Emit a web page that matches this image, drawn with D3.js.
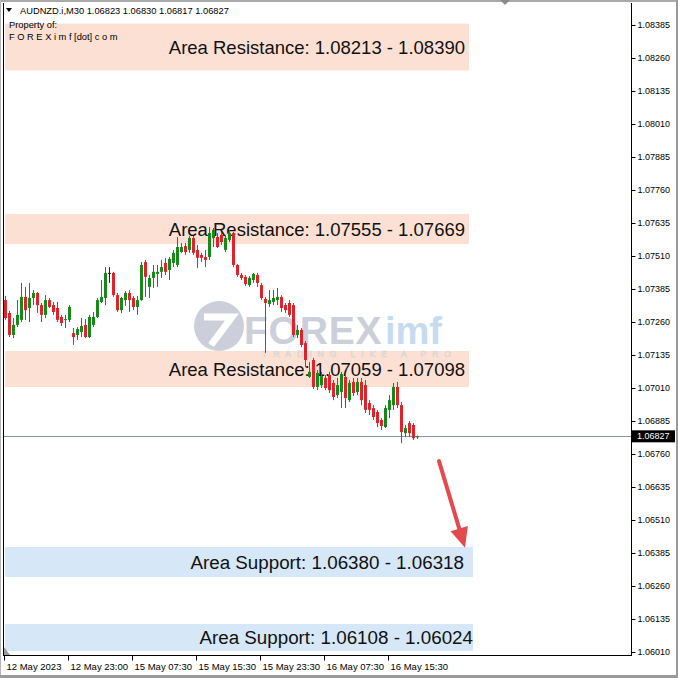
<!DOCTYPE html>
<html><head><meta charset="utf-8">
<script src="https://cdn.jsdelivr.net/npm/d3@7"></script>
<style>body{margin:0;background:#fff}svg{display:block}</style>
</head><body><svg id="c" width="678" height="678"></svg>
<script>
// ---- data (AUDNZD.i, M30) ----
const openP  = [1.07343,1.07294,1.07211,1.07249,1.07268,1.07355,1.07313,1.07351,1.07370,1.07324,1.07287,1.07343,1.07324,1.07313,1.07279,1.07268,1.07268,1.07218,1.07211,1.07222,1.07249,1.07203,1.07249,1.07279,1.07336,1.07351,1.07446,1.07446,1.07362,1.07305,1.07343,1.07370,1.07351,1.07317,1.07343,1.07487,1.07393,1.07427,1.07442,1.07450,1.07484,1.07457,1.07484,1.07476,1.07525,1.07548,1.07533,1.07578,1.07533,1.07514,1.07506,1.07506,1.07578,1.07582,1.07590,1.07533,1.07571,1.07597,1.07476,1.07438,1.07431,1.07400,1.07419,1.07438,1.07400,1.07347,1.07328,1.07336,1.07343,1.07355,1.07324,1.07332,1.07324,1.07211,1.07230,1.07180,1.07052,1.07116,1.07014,1.07021,1.07048,1.07059,1.07029,1.06983,1.06995,1.07052,1.06964,1.07033,1.06995,1.07033,1.07021,1.06953,1.06934,1.06919,1.06889,1.06862,1.06927,1.06945,1.07014,1.06945,1.06839,1.06877,1.06870,1.06823];
const highP  = [1.07359,1.07302,1.07275,1.07343,1.07408,1.07393,1.07408,1.07381,1.07374,1.07332,1.07362,1.07351,1.07336,1.07336,1.07287,1.07287,1.07324,1.07237,1.07241,1.07275,1.07271,1.07287,1.07298,1.07351,1.07419,1.07468,1.07468,1.07450,1.07370,1.07355,1.07377,1.07381,1.07359,1.07359,1.07487,1.07495,1.07438,1.07476,1.07476,1.07495,1.07503,1.07506,1.07533,1.07582,1.07559,1.07559,1.07586,1.07586,1.07552,1.07522,1.07533,1.07620,1.07616,1.07597,1.07601,1.07590,1.07609,1.07601,1.07480,1.07446,1.07438,1.07434,1.07446,1.07446,1.07408,1.07355,1.07381,1.07381,1.07389,1.07362,1.07332,1.07343,1.07332,1.07249,1.07237,1.07188,1.07108,1.07124,1.07078,1.07071,1.07059,1.07071,1.07040,1.07048,1.07071,1.07063,1.07040,1.07048,1.07048,1.07048,1.07040,1.06964,1.06945,1.06927,1.06896,1.06945,1.06983,1.07029,1.07033,1.06957,1.06870,1.06885,1.06877,1.06830];
const lowP   = [1.07268,1.07203,1.07199,1.07241,1.07260,1.07268,1.07260,1.07324,1.07294,1.07260,1.07275,1.07313,1.07287,1.07260,1.07245,1.07237,1.07260,1.07173,1.07192,1.07203,1.07199,1.07199,1.07241,1.07275,1.07332,1.07324,1.07408,1.07355,1.07298,1.07294,1.07321,1.07298,1.07305,1.07287,1.07340,1.07355,1.07351,1.07389,1.07393,1.07427,1.07438,1.07419,1.07468,1.07468,1.07522,1.07514,1.07522,1.07514,1.07465,1.07487,1.07468,1.07495,1.07544,1.07540,1.07552,1.07525,1.07563,1.07468,1.07431,1.07419,1.07396,1.07393,1.07408,1.07393,1.07343,1.07143,1.07317,1.07324,1.07324,1.07298,1.07294,1.07279,1.07203,1.07199,1.07165,1.07089,1.07048,1.07006,1.07002,1.07010,1.07002,1.06991,1.06964,1.06972,1.06934,1.06934,1.06957,1.06980,1.06983,1.06945,1.06915,1.06908,1.06889,1.06862,1.06851,1.06858,1.06896,1.06927,1.06934,1.06801,1.06824,1.06824,1.06813,1.06817];
const closeP = [1.07275,1.07211,1.07249,1.07287,1.07355,1.07305,1.07351,1.07370,1.07324,1.07287,1.07343,1.07317,1.07298,1.07268,1.07256,1.07271,1.07317,1.07203,1.07233,1.07245,1.07203,1.07279,1.07279,1.07343,1.07355,1.07446,1.07446,1.07362,1.07305,1.07351,1.07370,1.07343,1.07317,1.07343,1.07476,1.07431,1.07427,1.07450,1.07450,1.07468,1.07450,1.07499,1.07522,1.07544,1.07544,1.07525,1.07578,1.07522,1.07503,1.07503,1.07495,1.07597,1.07609,1.07544,1.07563,1.07578,1.07597,1.07476,1.07438,1.07427,1.07404,1.07427,1.07442,1.07408,1.07351,1.07332,1.07343,1.07351,1.07355,1.07313,1.07305,1.07287,1.07211,1.07230,1.07173,1.07116,1.07071,1.07014,1.07067,1.07055,1.07010,1.07002,1.06976,1.07021,1.07063,1.06972,1.07029,1.06991,1.07033,1.06964,1.06927,1.06927,1.06900,1.06877,1.06866,1.06934,1.06964,1.07014,1.06945,1.06843,1.06858,1.06839,1.06820,1.06827];

const priceTicks = [1.08385,1.08260,1.08135,1.08010,1.07885,1.07760,1.07635,1.07510,1.07385,1.07260,1.07135,1.07010,1.06885,1.06760,1.06635,1.06510,1.06385,1.06260,1.06135,1.06010];
const timeLabels = ["12 May 2023","12 May 23:00","15 May 07:30","15 May 15:30","15 May 23:30","16 May 07:30","16 May 15:30"];
const timeTickBars = [0,16,32,48,64,80,96];

const zoneLabels = ["Area Resistance: 1.08213 - 1.08390","Area Resistance: 1.07555 - 1.07669","Area Resistance: 1.07059 - 1.07098","Area Support: 1.06380 - 1.06318","Area Support: 1.06108 - 1.06024"];
const zoneTop    = [1.08390,1.07669,1.07150,1.06408,1.06116];
const zoneBottom = [1.08213,1.07555,1.07014,1.06294,1.06014];
const zoneEndBar = [116,116,116,117,117];
const zoneTextEndBar = [115,115,115,114.75,117];
const zoneKind   = ["res","res","res","sup","sup"];

const symbolHeader = "AUDNZD.i,M30  1.06823 1.06830 1.06817 1.06827";
const ownerLines = ["Property of:", "F O R E X i m f [dot] c o m"];
const lastPrice = 1.06827;
const arrowBars = [108.5, 115];
const arrowPrices = [1.06733, 1.06405];

// ---- drawing ----
const svg = d3.select("#c");
const W = 678, H = 678;
const L = 4, R = 631, T = 3, B = 655;
const x = d3.scaleLinear().domain([-0.25, 156.5]).range([L, R]);
const y = d3.scaleLinear().domain([1.06010, 1.08385]).range([652, 25]);
const FONT = "'Liberation Sans', Arial, sans-serif";

svg.append("rect").attr("width", W).attr("height", H).attr("fill", "#fff");

svg.append("defs").append("clipPath").attr("id", "plot")
  .append("rect").attr("x", L).attr("y", T).attr("width", R - L).attr("height", B - T);

const plot = svg.append("g").attr("clip-path", "url(#plot)");

// zones
const zones = zoneLabels.map((t, i) => ({t, top: zoneTop[i], bot: zoneBottom[i], end: zoneEndBar[i], tend: zoneTextEndBar[i], kind: zoneKind[i]}));
plot.selectAll("rect.zone").data(zones).join("rect")
  .attr("class", "zone")
  .attr("x", L + 1)
  .attr("y", d => y(d.top))
  .attr("width", d => x(d.end) - L - 1)
  .attr("height", d => y(d.bot) - y(d.top))
  .attr("fill", d => d.kind === "res" ? "#fbe0d3" : "#d6e7f7");

// watermark
const wm = plot.append("g").attr("opacity", 0.85);
wm.append("circle").attr("cx", 219).attr("cy", 326).attr("r", 25).attr("fill", "#c4c7d3");
wm.append("path").attr("d", "M204,317 L232,317 L211,345").attr("fill", "none")
  .attr("stroke", "#fff").attr("stroke-width", 7).attr("stroke-linejoin", "miter");
wm.append("text").attr("x", 244).attr("y", 344).attr("font-family", FONT)
  .attr("font-weight", "bold").attr("font-size", 39).attr("letter-spacing", 0.8)
  .attr("fill", "#c4c7d3").text("FOREX");
wm.append("text").attr("x", 385).attr("y", 344).attr("font-family", FONT)
  .attr("font-weight", "bold").attr("font-size", 38).attr("fill", "#bcd6ee").text("imf");
wm.append("text").attr("x", 262).attr("y", 357).attr("font-family", FONT)
  .attr("font-size", 8.5).attr("letter-spacing", 6).attr("fill", "none")
  .attr("stroke", "#d5d5d5").attr("stroke-width", 0.6).text("TRADING LIKE A PRO");

// zone labels
plot.selectAll("text.zl").data(zones).join("text")
  .attr("class", "zl")
  .attr("x", d => x(d.tend))
  .attr("y", d => (y(d.top) + y(d.bot)) / 2)
  .attr("dy", "0.36em")
  .attr("text-anchor", "end")
  .attr("font-family", FONT).attr("font-size", d => d.kind === "res" ? 18.5 : 18.8).attr("fill", "#111")
  .text(d => d.t);

// current price line
plot.append("line").attr("x1", L).attr("x2", R)
  .attr("y1", Math.round(y(lastPrice)) + 0.5).attr("y2", Math.round(y(lastPrice)) + 0.5)
  .attr("stroke", "#8a97a3").attr("stroke-width", 1);

// candles
const bars = openP.map((o, i) => ({i, o, h: highP[i], l: lowP[i], c: closeP[i]}));
const col = d => d.c > d.o ? "#17891a" : (d.c < d.o ? "#e0222b" : "#222");
const cg = plot.append("g");
const cx = d => Math.round(x(d.i)) + 0.5;
cg.selectAll("line.wick").data(bars).join("line")
  .attr("x1", cx).attr("x2", cx)
  .attr("y1", d => y(d.h)).attr("y2", d => y(d.l))
  .attr("stroke", col).attr("stroke-width", 1);
cg.selectAll("rect.body").data(bars).join("rect")
  .attr("x", d => cx(d) - 1.5)
  .attr("width", 3)
  .attr("y", d => y(Math.max(d.o, d.c)))
  .attr("height", d => Math.max(1, Math.abs(y(d.o) - y(d.c))))
  .attr("fill", col);

// red arrow
const ax1 = x(arrowBars[0]), ay1 = y(arrowPrices[0]), ax2 = x(arrowBars[1]), ay2 = y(arrowPrices[1]);
const ang = Math.atan2(ay2 - ay1, ax2 - ax1);
const headLen = 20, headW = 9;
const bx = ax2 - headLen * Math.cos(ang), by = ay2 - headLen * Math.sin(ang);
plot.append("line").attr("x1", ax1).attr("y1", ay1).attr("x2", bx).attr("y2", by)
  .attr("stroke", "#e24a4d").attr("stroke-width", 4).attr("stroke-linecap", "round");
plot.append("path").attr("d", `M${ax2},${ay2} L${bx + headW * Math.sin(ang)},${by - headW * Math.cos(ang)} L${bx - headW * Math.sin(ang)},${by + headW * Math.cos(ang)} Z`)
  .attr("fill", "#e24a4d");

// header
svg.append("path").attr("d", "M6,8 L12,8 L9,12 Z").attr("fill", "#000");
svg.append("text").attr("x", 20).attr("y", 14).attr("font-family", FONT).attr("font-size", 9.3).attr("fill", "#000").text(symbolHeader);
svg.selectAll("text.owner").data(ownerLines).join("text").attr("class", "owner")
  .attr("x", 9).attr("y", (d, i) => 28 + i * 12)
  .attr("font-family", FONT).attr("font-size", 9.3).attr("fill", "#000").text(d => d);

// frame
svg.append("line").attr("x1", L - 0.5).attr("x2", L - 0.5).attr("y1", T).attr("y2", B + 0.5).attr("stroke", "#000");
svg.append("line").attr("x1", L - 1).attr("x2", R + 1).attr("y1", B + 0.5).attr("y2", B + 0.5).attr("stroke", "#000");
svg.append("line").attr("x1", R + 0.5).attr("x2", R + 0.5).attr("y1", T).attr("y2", B + 1).attr("stroke", "#000");
svg.append("rect").attr("x", 0).attr("y", 0).attr("width", W).attr("height", 2).attr("fill", "#a9a9a9");
svg.append("path").attr("d", "M500,0 L510,0 L505,5 Z").attr("fill", "#8c8c8c");
svg.append("rect").attr("x", 0).attr("y", 0).attr("width", 1).attr("height", H).attr("fill", "#b5b5b5");
svg.append("rect").attr("x", W - 2).attr("y", 0).attr("width", 2).attr("height", H).attr("fill", "#9a9a9a");
svg.append("rect").attr("x", 0).attr("y", H - 3).attr("width", W).attr("height", 3).attr("fill", "#9a9a9a");

// right price axis
const ya = svg.append("g").attr("transform", `translate(${R + 0.5},0)`)
  .call(d3.axisRight(y).tickValues(priceTicks).tickFormat(d3.format(".5f")).tickSize(4).tickPadding(2));
ya.select(".domain").remove();
ya.selectAll("text").attr("font-family", FONT).attr("font-size", 9).attr("fill", "#000");
ya.selectAll("line").attr("stroke", "#000");

// current price box
const yl = y(lastPrice);
svg.append("rect").attr("x", R + 1).attr("y", yl - 6).attr("width", 43).attr("height", 12).attr("fill", "#000");
svg.append("text").attr("x", R + 6).attr("y", yl).attr("dy", "0.34em").attr("font-family", FONT)
  .attr("font-size", 9).attr("fill", "#fff").text(d3.format(".5f")(lastPrice));

// bottom time axis
const xa = svg.append("g").attr("transform", `translate(0,${B + 0.5})`)
  .call(d3.axisBottom(x).tickValues(timeTickBars).tickFormat((d, i) => timeLabels[i]).tickSize(5).tickPadding(3));
xa.select(".domain").remove();
xa.selectAll("line").attr("stroke", "#000").attr("transform", "translate(-1,0)");
xa.selectAll("text").attr("text-anchor", "start").attr("dx", 1)
  .attr("font-family", FONT).attr("font-size", 9.5).attr("fill", "#000");

// auto-scroll marker
svg.append("path").attr("d", `M${L},${B - 8} L${L},${B} L${L + 6},${B} Z`).attr("fill", "#9a9a9a");
</script></body></html>
